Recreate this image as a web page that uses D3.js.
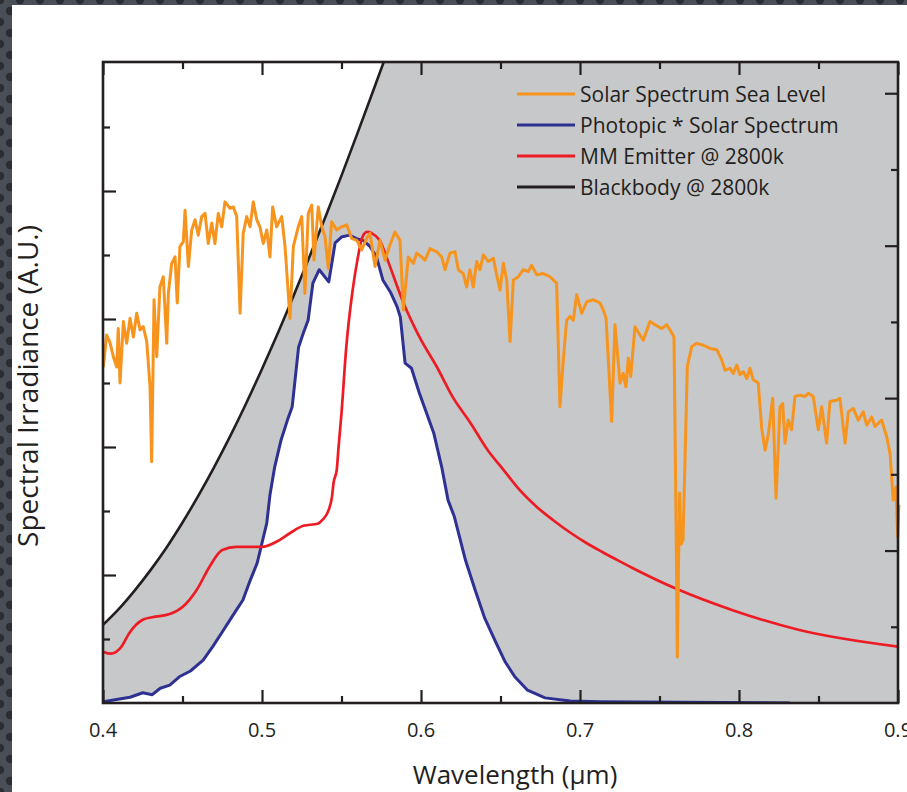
<!DOCTYPE html>
<html>
<head>
<meta charset="utf-8">
<script src="https://cdn.jsdelivr.net/npm/d3@7"></script>
<style>
body { margin: 0; background: #fff; }
svg text { font-family: "Open Sans", sans-serif; fill: #231f20; }
</style>
</head>
<body>
<svg id="chart" width="907" height="792"></svg>
<script>
// Series data: [wavelength (um), irradiance (A.U.)]
const solarSeaLevel = [
  [0.4002,5.25],[0.4023,5.75],[0.4044,5.63],[0.4065,5.41],[0.4086,5.25],[0.4096,5.85],[0.4107,5.00],
  [0.4128,5.96],[0.4149,5.62],[0.4170,6.01],[0.4191,5.72],[0.4212,6.09],[0.4233,5.83],[0.4253,5.88],
  [0.4275,5.65],[0.4296,4.94],[0.4306,3.77],[0.4321,6.30],[0.4338,5.41],[0.4358,6.50],[0.4379,6.66],
  [0.4401,5.62],[0.4411,6.40],[0.4432,6.87],[0.4453,6.97],[0.4467,6.25],[0.4484,7.13],[0.4505,7.21],
  [0.4516,7.70],[0.4537,6.82],[0.4558,7.39],[0.4579,7.55],[0.4599,7.31],[0.4621,7.60],[0.4642,7.65],
  [0.4662,7.18],[0.4684,7.50],[0.4704,7.18],[0.4725,7.65],[0.4747,7.44],[0.4767,7.83],[0.4799,7.73],
  [0.4820,7.75],[0.4841,7.60],[0.4862,6.09],[0.4882,7.34],[0.4904,7.60],[0.4925,7.44],[0.4945,7.83],
  [0.4967,7.55],[0.4987,7.44],[0.5008,7.18],[0.5030,7.39],[0.5050,6.97],[0.5067,7.75],[0.5092,7.44],
  [0.5124,7.60],[0.5145,7.13],[0.5176,6.01],[0.5197,7.13],[0.5228,7.44],[0.5250,7.60],[0.5270,6.40],
  [0.5291,7.65],[0.5313,7.78],[0.5327,6.92],[0.5354,7.75],[0.5376,7.44],[0.5396,7.29],[0.5417,6.79],
  [0.5438,7.52],[0.5470,7.39],[0.5501,7.44],[0.5533,7.47],[0.5564,7.26],[0.5596,7.23],[0.5627,7.08],
  [0.5658,7.26],[0.5679,7.34],[0.5711,6.82],[0.5742,7.23],[0.5774,6.92],[0.5805,7.16],[0.5836,7.36],
  [0.5868,7.23],[0.5889,6.14],[0.5920,6.97],[0.5952,6.87],[0.5973,7.03],[0.6004,6.97],[0.6025,6.92],
  [0.6057,7.10],[0.6099,7.05],[0.6130,6.97],[0.6151,6.77],[0.6182,7.03],[0.6214,7.05],[0.6235,6.77],
  [0.6266,6.71],[0.6287,6.50],[0.6308,6.77],[0.6329,6.50],[0.6350,6.90],[0.6371,6.77],[0.6392,7.00],
  [0.6423,6.90],[0.6455,6.95],[0.6476,6.69],[0.6497,6.45],[0.6518,6.87],[0.6539,6.61],[0.6560,5.65],
  [0.6581,6.61],[0.6612,6.66],[0.6643,6.77],[0.6675,6.74],[0.6696,6.84],[0.6728,6.69],[0.6769,6.71],
  [0.6811,6.66],[0.6853,6.56],[0.6874,4.63],[0.6895,5.36],[0.6916,5.98],[0.6937,6.04],[0.6958,5.98],
  [0.6979,6.38],[0.7011,6.09],[0.7042,6.27],[0.7084,6.30],[0.7126,6.25],[0.7147,6.14],[0.7164,6.01],
  [0.7199,4.40],[0.7220,5.91],[0.7252,5.00],[0.7272,5.15],[0.7289,4.94],[0.7304,5.39],[0.7319,5.10],
  [0.7346,5.88],[0.7377,5.75],[0.7398,5.67],[0.7440,5.96],[0.7492,5.88],[0.7514,5.85],[0.7545,5.91],
  [0.7566,5.83],[0.7591,5.72],[0.7604,2.86],[0.7612,0.72],[0.7620,2.23],[0.7627,3.28],[0.7635,2.48],
  [0.7648,2.55],[0.7675,5.26],[0.7703,5.57],[0.7734,5.62],[0.7776,5.59],[0.7818,5.54],[0.7860,5.52],
  [0.7891,5.36],[0.7912,5.20],[0.7943,5.23],[0.7964,5.15],[0.7986,5.28],[0.8006,5.13],[0.8027,5.18],
  [0.8049,5.07],[0.8069,5.23],[0.8090,5.05],[0.8121,5.00],[0.8143,4.29],[0.8164,3.95],[0.8184,4.19],
  [0.8212,4.76],[0.8233,3.20],[0.8258,4.63],[0.8275,4.68],[0.8289,4.06],[0.8310,4.42],[0.8331,4.27],
  [0.8352,4.79],[0.8384,4.81],[0.8415,4.79],[0.8436,4.84],[0.8467,4.79],[0.8499,4.27],[0.8520,4.63],
  [0.8551,4.06],[0.8572,4.71],[0.8614,4.73],[0.8635,4.76],[0.8667,4.06],[0.8688,4.55],[0.8719,4.60],
  [0.8750,4.42],[0.8782,4.55],[0.8803,4.34],[0.8835,4.47],[0.8855,4.32],[0.8897,4.42],[0.8929,4.16],
  [0.8950,3.90],[0.8970,3.17],[0.8987,3.38],[0.8998,2.60],[0.9005,3.10]
];

const photopicSolar = [
  [0.400,0.02],[0.417,0.09],[0.425,0.16],[0.431,0.13],[0.436,0.23],[0.442,0.28],[0.448,0.41],
  [0.455,0.50],[0.463,0.67],[0.469,0.88],[0.475,1.11],[0.482,1.38],[0.488,1.61],[0.492,1.88],
  [0.497,2.19],[0.500,2.50],[0.503,2.81],[0.505,3.25],[0.508,3.69],[0.512,4.11],[0.516,4.42],
  [0.519,4.63],[0.523,5.56],[0.526,5.78],[0.529,5.98],[0.532,6.56],[0.536,6.77],[0.542,6.58],
  [0.546,7.19],[0.550,7.28],[0.555,7.31],[0.560,7.25],[0.564,7.22],[0.568,7.13],[0.572,6.97],
  [0.576,6.61],[0.581,6.41],[0.585,6.19],[0.587,6.03],[0.590,5.31],[0.594,5.23],[0.599,4.84],
  [0.608,4.22],[0.613,3.69],[0.617,3.17],[0.621,2.91],[0.628,2.23],[0.634,1.77],[0.640,1.33],
  [0.647,0.95],[0.653,0.64],[0.659,0.41],[0.667,0.20],[0.678,0.08],[0.694,0.03],[0.713,0.02],
  [0.832,0.0]
];

const mmEmitter = [
  [0.400,0.80],[0.405,0.77],[0.411,0.86],[0.417,1.11],[0.425,1.30],[0.431,1.34],[0.442,1.39],
  [0.450,1.50],[0.459,1.77],[0.467,2.13],[0.475,2.39],[0.484,2.44],[0.492,2.44],[0.500,2.44],
  [0.509,2.52],[0.518,2.66],[0.526,2.77],[0.535,2.80],[0.538,2.86],[0.542,3.02],[0.544,3.22],
  [0.545,3.44],[0.547,3.64],[0.548,3.95],[0.550,4.53],[0.553,5.56],[0.557,6.45],[0.560,6.92],
  [0.563,7.27],[0.566,7.36],[0.569,7.34],[0.574,7.23],[0.579,6.92],[0.589,6.25],[0.599,5.72],
  [0.610,5.25],[0.620,4.78],[0.631,4.38],[0.642,3.95],[0.652,3.64],[0.662,3.33],[0.673,3.06],
  [0.683,2.86],[0.694,2.66],[0.704,2.50],[0.714,2.36],[0.723,2.24],[0.733,2.11],[0.761,1.78],
  [0.796,1.45],[0.838,1.14],[0.900,0.88]
];

const blackbody = [
  [0.40,1.22],[0.41,1.47],[0.42,1.76],[0.43,2.08],[0.44,2.43],[0.45,2.82],[0.46,3.24],
  [0.47,3.69],[0.48,4.17],[0.49,4.68],[0.50,5.22],[0.51,5.78],[0.52,6.37],[0.53,6.98],
  [0.54,7.60],[0.55,8.24],[0.56,8.90],[0.57,9.57],[0.58,10.25],[0.59,10.94],[0.60,11.63]
];

const xMajorTicks = [0.4, 0.5, 0.6, 0.7, 0.8, 0.9];
const xMinorTicks = [0.45, 0.55, 0.65, 0.75, 0.85];
const yLeftMajor = [2, 4, 6, 8];
const yLeftMinor = [1, 3, 5, 7, 9];
const yRightMajor = [2, 4, 6, 8];
const yRightMinor = [1, 3, 5, 7];

const legendItems = [
  {label: "Solar Spectrum Sea Level", color: "#f7941d"},
  {label: "Photopic * Solar Spectrum", color: "#2e3192"},
  {label: "MM Emitter @ 2800k", color: "#ed1c24"},
  {label: "Blackbody @ 2800k", color: "#231f20"}
];

// Plot box
const plot = {left: 103, right: 898, top: 62, bottom: 703};
const ink = "#231f20";

const x = d3.scaleLinear().domain([0.4, 0.9]).range([plot.left, plot.right]);
const y = d3.scaleLinear().domain([0, 10]).range([plot.bottom, 63]);
const yRight = d3.scaleLinear().domain([0, 8.41]).range([plot.bottom, plot.top]);

const svg = d3.select("#chart");

// Dotted dark frame behind the white panel
const defs = svg.append("defs");
const pat = defs.append("pattern")
    .attr("id", "dots")
    .attr("patternUnits", "userSpaceOnUse")
    .attr("width", 20).attr("height", 22);
pat.append("rect").attr("width", 20).attr("height", 22).attr("fill", "#4a4f57");
[[0, 0], [20, 0], [10, 11], [0, 22], [20, 22]].forEach(p => {
    pat.append("circle").attr("cx", p[0]).attr("cy", p[1]).attr("r", 4.2).attr("fill", "#2a2d32");
});

svg.append("rect").attr("width", 907).attr("height", 792).attr("fill", "url(#dots)");
svg.append("rect").attr("x", 12).attr("y", 5).attr("width", 895).attr("height", 787).attr("fill", "#fff");

defs.append("clipPath").attr("id", "plotClip")
  .append("rect")
    .attr("x", plot.left).attr("y", plot.top)
    .attr("width", plot.right - plot.left).attr("height", plot.bottom - plot.top);

const g = svg.append("g").attr("clip-path", "url(#plotClip)");

// Gray band between photopic curve and blackbody curve
g.append("rect")
    .attr("x", plot.left).attr("y", plot.top)
    .attr("width", plot.right - plot.left).attr("height", plot.bottom - plot.top)
    .attr("fill", "#c7c8ca");

const aboveBlackbody = d3.area()
    .x(d => x(d[0]))
    .y0(plot.top - 5)
    .y1(d => y(d[1]))
    .curve(d3.curveMonotoneX);

const underPhotopic = d3.area()
    .x(d => x(d[0]))
    .y0(plot.bottom)
    .y1(d => y(d[1]));

g.append("path").datum(blackbody).attr("d", aboveBlackbody).attr("fill", "#fff");
g.append("path").datum(photopicSolar).attr("d", underPhotopic).attr("fill", "#fff");

// Curves
const lineSmooth = d3.line().x(d => x(d[0])).y(d => y(d[1])).curve(d3.curveMonotoneX);
const lineRaw = d3.line().x(d => x(d[0])).y(d => y(d[1]));

g.append("path").datum(blackbody)
    .attr("d", lineSmooth).attr("fill", "none")
    .attr("stroke", ink).attr("stroke-width", 2.6);

g.append("path").datum(photopicSolar)
    .attr("d", lineRaw).attr("fill", "none")
    .attr("stroke", "#2e3192").attr("stroke-width", 3)
    .attr("stroke-linejoin", "round");

g.append("path").datum(mmEmitter)
    .attr("d", lineSmooth).attr("fill", "none")
    .attr("stroke", "#ed1c24").attr("stroke-width", 2.7);

svg.append("path").datum(solarSeaLevel)
    .attr("d", lineRaw).attr("fill", "none")
    .attr("stroke", "#f7941d").attr("stroke-width", 3)
    .attr("stroke-linejoin", "round");

// Axes: ticks pointing inwards, long on majors
function ticks(axisGen, values, size, translate) {
    const a = svg.append("g")
        .attr("transform", translate)
        .call(axisGen.tickValues(values).tickSize(-size).tickFormat(""));
    a.select(".domain").remove();
    a.selectAll("line").attr("stroke", ink).attr("stroke-width", 2.2);
    return a;
}

ticks(d3.axisBottom(x), xMajorTicks, 13, `translate(0,${plot.bottom})`);
ticks(d3.axisBottom(x), xMinorTicks, 7, `translate(0,${plot.bottom})`);
ticks(d3.axisTop(x), xMajorTicks, 13, `translate(0,${plot.top})`);
ticks(d3.axisTop(x), xMinorTicks, 7, `translate(0,${plot.top})`);
ticks(d3.axisLeft(y), yLeftMajor, 13, `translate(${plot.left},0)`);
ticks(d3.axisLeft(y), yLeftMinor, 7, `translate(${plot.left},0)`);
ticks(d3.axisRight(yRight), yRightMajor, 13, `translate(${plot.right},0)`);
ticks(d3.axisRight(yRight), yRightMinor, 7, `translate(${plot.right},0)`);

// Frame
svg.append("rect")
    .attr("x", plot.left).attr("y", plot.top)
    .attr("width", plot.right - plot.left).attr("height", plot.bottom - plot.top)
    .attr("fill", "none").attr("stroke", ink).attr("stroke-width", 2.6);

// Tick labels
svg.selectAll("text.xlabel")
    .data(xMajorTicks)
  .enter().append("text")
    .attr("class", "xlabel")
    .attr("x", d => x(d))
    .attr("y", 737)
    .attr("text-anchor", "middle")
    .style("font-size", "20px")
    .text(d3.format(".1f"));

// Axis titles
svg.append("text")
    .attr("x", 515).attr("y", 784)
    .attr("text-anchor", "middle")
    .style("font-size", "26px")
    .text("Wavelength (\u03bcm)");

svg.append("text")
    .attr("transform", "translate(38,386) rotate(-90)")
    .attr("text-anchor", "middle")
    .style("font-size", "28px")
    .text("Spectral Irradiance (A.U.)");

// Legend
const legend = svg.append("g").attr("transform", "translate(517,94)");
const rows = legend.selectAll("g")
    .data(legendItems)
  .enter().append("g")
    .attr("transform", (d, i) => `translate(0,${i * 31})`);

rows.append("line")
    .attr("x1", 0).attr("x2", 58)
    .attr("stroke", d => d.color).attr("stroke-width", 2.8);

rows.append("text")
    .attr("x", 63).attr("y", 8)
    .style("font-size", "21px")
    .text(d => d.label);
</script>
</body>
</html>
